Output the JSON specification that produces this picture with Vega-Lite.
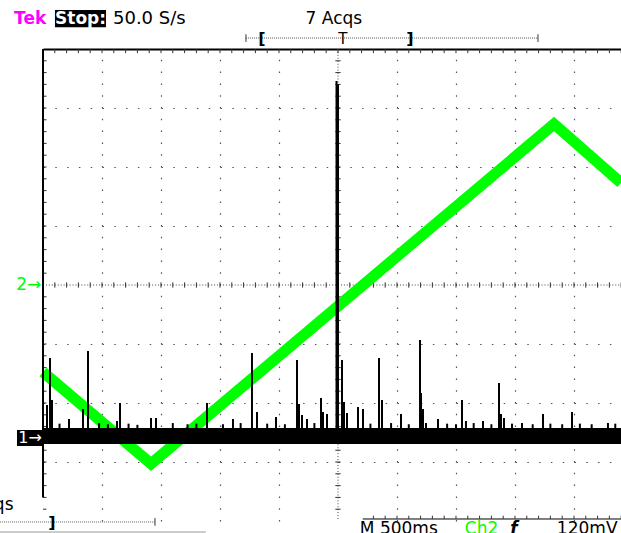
{
  "$schema": "https://vega.github.io/schema/vega-lite/v6.json",
  "width": 578,
  "height": 472,
  "autosize": {"type": "none"},
  "padding": {"left": 43, "top": 49, "right": 0, "bottom": 12},
  "background": "#ffffff",
  "config": {"view": {"stroke": null}, "text": {"font": "DejaVu Sans"}},
  "data": {"values": [{}]},
  "datasets": {
    "green": [
      {"t": 0, "v": -1.475},
      {"t": 1.831, "v": -3.03},
      {"t": 8.661, "v": 2.729},
      {"t": 9.797, "v": 1.73}
    ],
    "spikes": [
      {"t": 0.068, "v": -2.034}, {"t": 0.119, "v": -1.237}, {"t": 0.153, "v": -1.949},
      {"t": 0.441, "v": -2.271}, {"t": 0.678, "v": -2.102}, {"t": 0.763, "v": -1.119},
      {"t": 1.254, "v": -2.305}, {"t": 1.305, "v": -2.0}, {"t": 1.831, "v": -2.254},
      {"t": 1.915, "v": -2.254}, {"t": 2.78, "v": -2.0}, {"t": 3.22, "v": -2.271},
      {"t": 3.542, "v": -1.153}, {"t": 3.627, "v": -2.153}, {"t": 3.949, "v": -2.237},
      {"t": 4.305, "v": -1.271}, {"t": 4.339, "v": -2.017}, {"t": 4.39, "v": -2.203},
      {"t": 4.475, "v": -2.271}, {"t": 4.712, "v": -1.915}, {"t": 4.746, "v": -2.153},
      {"t": 4.814, "v": -2.186}, {"t": 4.975, "v": 3.458}, {"t": 5.0, "v": 3.4},
      {"t": 5.068, "v": -1.271}, {"t": 5.102, "v": -1.983}, {"t": 5.153, "v": -2.169},
      {"t": 5.339, "v": -2.068}, {"t": 5.424, "v": -2.102}, {"t": 5.695, "v": -1.237},
      {"t": 5.746, "v": -1.949}, {"t": 6.068, "v": -2.186}, {"t": 6.39, "v": -0.932},
      {"t": 6.407, "v": -1.831}, {"t": 6.441, "v": -2.102}, {"t": 6.492, "v": -2.339},
      {"t": 6.695, "v": -2.271}, {"t": 7.102, "v": -1.949}, {"t": 7.169, "v": -2.305},
      {"t": 7.458, "v": -2.305}, {"t": 7.729, "v": -1.661}, {"t": 7.763, "v": -2.186},
      {"t": 7.814, "v": -2.254}, {"t": 8.119, "v": -2.339}, {"t": 8.475, "v": -2.186},
      {"t": 8.966, "v": -2.153}, {"t": 9.576, "v": -2.339},
      {"t": 0.28, "v": -2.35}, {"t": 0.95, "v": -2.34}, {"t": 1.1, "v": -2.36},
      {"t": 1.45, "v": -2.35}, {"t": 1.6, "v": -2.37}, {"t": 2.2, "v": -2.34},
      {"t": 2.45, "v": -2.36}, {"t": 2.6, "v": -2.35}, {"t": 3.05, "v": -2.36},
      {"t": 3.35, "v": -2.34}, {"t": 3.8, "v": -2.35}, {"t": 4.1, "v": -2.36},
      {"t": 4.6, "v": -2.34}, {"t": 5.55, "v": -2.35}, {"t": 5.9, "v": -2.34},
      {"t": 6.2, "v": -2.36}, {"t": 6.85, "v": -2.35}, {"t": 7.0, "v": -2.36},
      {"t": 7.3, "v": -2.34}, {"t": 7.6, "v": -2.36}, {"t": 7.95, "v": -2.35},
      {"t": 8.3, "v": -2.36}, {"t": 8.6, "v": -2.35}, {"t": 8.8, "v": -2.36},
      {"t": 9.1, "v": -2.35}, {"t": 9.3, "v": -2.36}, {"t": 9.7, "v": -2.35}
    ],
    "minorX": [
      {"t": 0.2}, {"t": 0.4}, {"t": 0.6}, {"t": 0.8}, {"t": 1}, {"t": 1.2}, {"t": 1.4}, {"t": 1.6}, {"t": 1.8}, {"t": 2},
      {"t": 2.2}, {"t": 2.4}, {"t": 2.6}, {"t": 2.8}, {"t": 3}, {"t": 3.2}, {"t": 3.4}, {"t": 3.6}, {"t": 3.8}, {"t": 4},
      {"t": 4.2}, {"t": 4.4}, {"t": 4.6}, {"t": 4.8}, {"t": 5}, {"t": 5.2}, {"t": 5.4}, {"t": 5.6}, {"t": 5.8}, {"t": 6},
      {"t": 6.2}, {"t": 6.4}, {"t": 6.6}, {"t": 6.8}, {"t": 7}, {"t": 7.2}, {"t": 7.4}, {"t": 7.6}, {"t": 7.8}, {"t": 8},
      {"t": 8.2}, {"t": 8.4}, {"t": 8.6}, {"t": 8.8}, {"t": 9}, {"t": 9.2}, {"t": 9.4}, {"t": 9.6}, {"t": 9.8}
    ],
    "minorY": [
      {"v": -3.8}, {"v": -3.6}, {"v": -3.4}, {"v": -3.2}, {"v": -3}, {"v": -2.8}, {"v": -2.6}, {"v": -2.4}, {"v": -2.2}, {"v": -2},
      {"v": -1.8}, {"v": -1.6}, {"v": -1.4}, {"v": -1.2}, {"v": -1}, {"v": -0.8}, {"v": -0.6}, {"v": -0.4}, {"v": -0.2},
      {"v": 0.2}, {"v": 0.4}, {"v": 0.6}, {"v": 0.8}, {"v": 1}, {"v": 1.2}, {"v": 1.4}, {"v": 1.6}, {"v": 1.8}, {"v": 2},
      {"v": 2.2}, {"v": 2.4}, {"v": 2.6}, {"v": 2.8}, {"v": 3}, {"v": 3.2}, {"v": 3.4}, {"v": 3.6}, {"v": 3.8}
    ]
  },
  "layer": [
    {
      "data": {"name": "green"},
      "mark": {"type": "line", "stroke": "#00ff00", "strokeWidth": 11, "strokeJoin": "miter", "strokeCap": "butt", "opacity": 0},
      "encoding": {
        "x": {"field": "t", "type": "quantitative", "scale": {"domain": [0, 9.797], "nice": false, "zero": false},
          "axis": {"orient": "top", "values": [1, 2, 3, 4, 6, 7, 8, 9], "grid": true, "gridDash": [1.5, 10.3], "gridColor": "#555", "gridWidth": 1.2, "ticks": false, "labels": false, "domain": true, "domainColor": "#000000", "domainWidth": 2, "title": null}},
        "y": {"field": "v", "type": "quantitative", "scale": {"domain": [-4, 4], "nice": false, "zero": false},
          "axis": {"orient": "left", "values": [-3, -2, -1, 1, 2, 3], "grid": true, "gridDash": [1.5, 10.3], "gridColor": "#555", "gridWidth": 1.2, "ticks": false, "labels": false, "domain": false, "title": null}}
      }
    },
    {
      "mark": {"type": "rule", "stroke": "#444", "strokeWidth": 1, "strokeDash": [1, 1.95]},
      "encoding": {"x": {"datum": 5}, "y": {"datum": 4}, "y2": {"datum": -4}}
    },
    {
      "mark": {"type": "rule", "stroke": "#444", "strokeWidth": 1, "strokeDash": [1, 1.95]},
      "encoding": {"y": {"datum": 0}, "x": {"datum": 0}, "x2": {"datum": 9.797}}
    },
    {
      "data": {"name": "minorX"},
      "mark": {"type": "rule", "stroke": "#333", "strokeWidth": 1},
      "encoding": {"x": {"field": "t", "type": "quantitative"}, "y": {"datum": -0.045}, "y2": {"datum": 0.045}}
    },
    {
      "data": {"name": "minorX"},
      "mark": {"type": "rule", "stroke": "#333", "strokeWidth": 1},
      "encoding": {"x": {"field": "t", "type": "quantitative"}, "y": {"datum": 4}, "y2": {"datum": 3.93}}
    },
    {
      "data": {"name": "minorY"},
      "mark": {"type": "rule", "stroke": "#333", "strokeWidth": 1},
      "encoding": {"y": {"field": "v", "type": "quantitative"}, "x": {"datum": 4.955}, "x2": {"datum": 5.045}}
    },
    {
      "data": {"name": "minorY"},
      "mark": {"type": "rule", "stroke": "#333", "strokeWidth": 1},
      "encoding": {"y": {"field": "v", "type": "quantitative"}, "x": {"datum": 0}, "x2": {"datum": 0.06}}
    },
    {
      "data": {"name": "green"},
      "mark": {"type": "line", "stroke": "#00ff00", "strokeWidth": 11, "strokeJoin": "miter", "strokeCap": "butt"},
      "encoding": {"x": {"field": "t", "type": "quantitative"}, "y": {"field": "v", "type": "quantitative"}}
    },
    {
      "mark": {"type": "rect", "color": "#000000"},
      "encoding": {"x": {"datum": 0}, "x2": {"datum": 9.797}, "y": {"datum": -2.424}, "y2": {"datum": -2.695}}
    },
    {
      "data": {"name": "spikes"},
      "mark": {"type": "rule", "stroke": "#000000", "strokeWidth": 2},
      "encoding": {"x": {"field": "t", "type": "quantitative"}, "y": {"field": "v", "type": "quantitative"}, "y2": {"datum": -2.5}}
    },
    {
      "mark": {"type": "rule", "stroke": "#000000", "strokeWidth": 2},
      "encoding": {"x": {"datum": 0}, "y": {"datum": 4}, "y2": {"datum": -3.6}}
    },
    {
      "mark": {"type": "rect", "color": "#000000"},
      "encoding": {"x": {"datum": -0.441}, "x2": {"datum": 0}, "y": {"datum": -2.458}, "y2": {"datum": -2.729}}
    },
    {
      "mark": {"type": "text", "text": "1→", "color": "#ffffff", "fontSize": 16, "align": "center", "baseline": "middle"},
      "encoding": {"x": {"datum": -0.22}, "y": {"datum": -2.59}}
    },
    {
      "mark": {"type": "text", "text": "2→", "color": "#00ff00", "fontSize": 17, "align": "right", "baseline": "middle"},
      "encoding": {"x": {"datum": -0.03}, "y": {"datum": 0}}
    },
    {
      "mark": {"type": "text", "text": "Tek", "color": "#ff00ff", "fontSize": 17, "fontWeight": "bold", "align": "left", "baseline": "alphabetic"},
      "encoding": {"x": {"datum": -0.49}, "y": {"datum": 4.42}}
    },
    {
      "mark": {"type": "rect", "color": "#000000"},
      "encoding": {"x": {"datum": 0.203}, "x2": {"datum": 1.068}, "y": {"datum": 4.66}, "y2": {"datum": 4.37}}
    },
    {
      "mark": {"type": "text", "text": "Stop:", "color": "#ffffff", "fontSize": 17, "fontWeight": "bold", "align": "center", "baseline": "alphabetic"},
      "encoding": {"x": {"datum": 0.636}, "y": {"datum": 4.42}}
    },
    {
      "mark": {"type": "text", "text": "50.0 S/s", "color": "#000000", "fontSize": 18, "align": "left", "baseline": "alphabetic"},
      "encoding": {"x": {"datum": 1.186}, "y": {"datum": 4.42}}
    },
    {
      "mark": {"type": "text", "text": "7 Acqs", "color": "#000000", "fontSize": 17, "align": "center", "baseline": "alphabetic"},
      "encoding": {"x": {"datum": 4.93}, "y": {"datum": 4.42}}
    },
    {
      "mark": {"type": "rule", "stroke": "#555", "strokeWidth": 1, "strokeDash": [1, 1]},
      "encoding": {"x": {"datum": 3.44}, "x2": {"datum": 8.39}, "y": {"datum": 4.186}}
    },
    {
      "mark": {"type": "rule", "stroke": "#333", "strokeWidth": 1},
      "encoding": {"x": {"datum": 3.44}, "y": {"datum": 4.12}, "y2": {"datum": 4.25}}
    },
    {
      "mark": {"type": "rule", "stroke": "#333", "strokeWidth": 1},
      "encoding": {"x": {"datum": 8.39}, "y": {"datum": 4.12}, "y2": {"datum": 4.25}}
    },
    {
      "mark": {"type": "text", "text": "[", "color": "#000000", "fontSize": 16, "fontWeight": "bold", "align": "center", "baseline": "middle"},
      "encoding": {"x": {"datum": 3.71}, "y": {"datum": 4.17}}
    },
    {
      "mark": {"type": "text", "text": "T", "color": "#000000", "fontSize": 15, "align": "center", "baseline": "middle"},
      "encoding": {"x": {"datum": 5.08}, "y": {"datum": 4.17}}
    },
    {
      "mark": {"type": "text", "text": "]", "color": "#000000", "fontSize": 16, "fontWeight": "bold", "align": "center", "baseline": "middle"},
      "encoding": {"x": {"datum": 6.22}, "y": {"datum": 4.17}}
    },
    {
      "mark": {"type": "text", "text": "7 Acqs", "color": "#000000", "fontSize": 17, "align": "right", "baseline": "alphabetic"},
      "encoding": {"x": {"datum": -0.5}, "y": {"datum": -3.81}}
    },
    {
      "mark": {"type": "rule", "stroke": "#666", "strokeWidth": 1, "strokeDash": [1, 1]},
      "encoding": {"x": {"datum": -0.73}, "x2": {"datum": 1.898}, "y": {"datum": -4.017}}
    },
    {
      "mark": {"type": "rule", "stroke": "#333", "strokeWidth": 1},
      "encoding": {"x": {"datum": 1.898}, "y": {"datum": -3.95}, "y2": {"datum": -4.08}}
    },
    {
      "mark": {"type": "text", "text": "]", "color": "#000000", "fontSize": 16, "fontWeight": "bold", "align": "center", "baseline": "middle"},
      "encoding": {"x": {"datum": 0.153}, "y": {"datum": -4.03}}
    },
    {
      "mark": {"type": "rule", "stroke": "#cccccc", "strokeWidth": 2},
      "encoding": {"x": {"datum": -0.73}, "x2": {"datum": 2.76}, "y": {"datum": -4.186}}
    },
    {
      "mark": {"type": "rule", "stroke": "#000000", "strokeWidth": 1},
      "encoding": {"x": {"datum": 5.42}, "x2": {"datum": 9.797}, "y": {"datum": -3.966}}
    },
    {
      "data": {"name": "minorX"},
      "transform": [{"filter": "datum.t > 5.45"}],
      "mark": {"type": "rule", "stroke": "#333", "strokeWidth": 1},
      "encoding": {"x": {"field": "t", "type": "quantitative"}, "y": {"datum": -3.966}, "y2": {"datum": -3.91}}
    },
    {
      "mark": {"type": "text", "text": "M 500ms", "color": "#000000", "fontSize": 17, "align": "left", "baseline": "alphabetic"},
      "encoding": {"x": {"datum": 5.37}, "y": {"datum": -4.22}}
    },
    {
      "mark": {"type": "text", "text": "Ch2", "color": "#00ff00", "fontSize": 17, "align": "left", "baseline": "alphabetic"},
      "encoding": {"x": {"datum": 7.15}, "y": {"datum": -4.22}}
    },
    {
      "mark": {"type": "text", "text": "ƒ", "color": "#000000", "fontSize": 17, "fontStyle": "italic", "fontWeight": "bold", "align": "left", "baseline": "alphabetic"},
      "encoding": {"x": {"datum": 7.92}, "y": {"datum": -4.22}}
    },
    {
      "mark": {"type": "text", "text": "120mV", "color": "#000000", "fontSize": 17, "align": "left", "baseline": "alphabetic"},
      "encoding": {"x": {"datum": 8.71}, "y": {"datum": -4.22}}
    }
  ]
}
